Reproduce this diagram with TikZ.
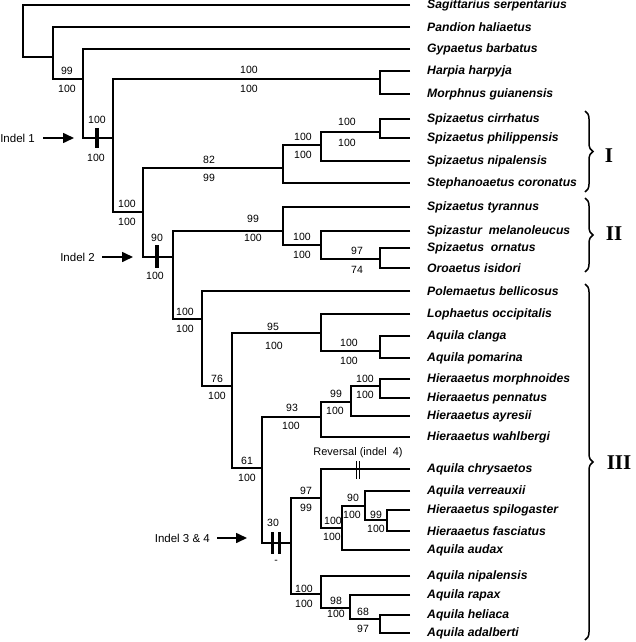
\documentclass[tikz,border=0pt]{standalone}
\usepackage{fontspec}
\setmainfont{Liberation Sans}
\newfontfamily\romfont{Liberation Serif}
\usetikzlibrary{arrows.meta,decorations.pathreplacing}
\begin{document}
\begin{tikzpicture}[x=1pt,y=-1pt,
  br/.style={line width=1.8pt},
  leaf/.style={anchor=west, inner xsep=17pt, inner ysep=0pt, font=\fontsize{12.2}{14}\selectfont\bfseries\itshape},
  bs/.style={inner sep=0pt, font=\fontsize{10.5}{12}\selectfont},
  indel/.style={inner sep=0pt, font=\fontsize{11.5}{13}\selectfont},
  arr/.style={line width=1.6pt, -{Triangle[length=11pt,width=10pt]}},
  ibar/.style={line width=3.8pt},
  ibarb/.style={line width=3pt},
  rbar/.style={line width=0.9pt},
  clade/.style={line width=1.5pt, decorate, decoration={brace, amplitude=8pt}},
  rom/.style={inner sep=0pt, font=\fontsize{21}{24}\selectfont\romfont\bfseries}]
\useasboundingbox (0,0) rectangle (635,642);

% leaves
\node[leaf] (sag) at (410,5) {Sagittarius serpentarius};
\node[leaf] (pan) at (410,27) {Pandion haliaetus};
\node[leaf] (gyp) at (410,49) {Gypaetus barbatus};
\node[leaf] (har) at (410,71) {Harpia harpyja};
\node[leaf] (mor) at (410,94) {Morphnus guianensis};
\node[leaf] (cir) at (410,119) {Spizaetus cirrhatus};
\node[leaf] (phi) at (410,138) {Spizaetus philippensis};
\node[leaf] (nipS) at (410,161) {Spizaetus nipalensis};
\node[leaf] (ste) at (410,183) {Stephanoaetus coronatus};
\node[leaf] (tyr) at (410,207) {Spizaetus tyrannus};
\node[leaf] (mel) at (410,231) {Spizastur~~melanoleucus};
\node[leaf] (orn) at (410,248) {Spizaetus~~ornatus};
\node[leaf] (isi) at (410,268) {Oroaetus isidori};
\node[leaf] (pol) at (410,291) {Polemaetus bellicosus};
\node[leaf] (lop) at (410,314) {Lophaetus occipitalis};
\node[leaf] (cla) at (410,336) {Aquila clanga};
\node[leaf] (pom) at (410,358) {Aquila pomarina};
\node[leaf] (mph) at (410,379) {Hieraaetus morphnoides};
\node[leaf] (pen) at (410,398) {Hieraaetus pennatus};
\node[leaf] (ayr) at (410,416) {Hieraaetus ayresii};
\node[leaf] (wah) at (410,437) {Hieraaetus wahlbergi};
\node[leaf] (chr) at (410,469) {Aquila chrysaetos};
\node[leaf] (ver) at (410,491) {Aquila verreauxii};
\node[leaf] (spi) at (410,510) {Hieraaetus spilogaster};
\node[leaf] (fas) at (410,531) {Hieraaetus fasciatus};
\node[leaf] (aud) at (410,550) {Aquila audax};
\node[leaf] (nipA) at (410,576) {Aquila nipalensis};
\node[leaf] (rap) at (410,595) {Aquila rapax};
\node[leaf] (hel) at (410,615) {Aquila heliaca};
\node[leaf] (ada) at (410,633) {Aquila adalberti};

% internal nodes
\coordinate (root) at (23,31);
\coordinate (A) at (53,57);
\coordinate (B) at (83,79);
\coordinate (C) at (113,138);
\coordinate (D) at (380,79);
\coordinate (E) at (143,212);
\coordinate (F) at (283,168);
\coordinate (G) at (321,145);
\coordinate (H) at (380,132);
\coordinate (K) at (173,257);
\coordinate (J) at (283,231);
\coordinate (J2) at (321,245);
\coordinate (J3) at (380,259);
\coordinate (L) at (202,319);
\coordinate (M) at (232,386);
\coordinate (N) at (321,333);
\coordinate (O) at (380,351);
\coordinate (P) at (262,468);
\coordinate (Q) at (321,417);
\coordinate (S) at (351,402);
\coordinate (T) at (380,386);
\coordinate (R) at (291,543);
\coordinate (U) at (321,498);
\coordinate (V) at (342,528);
\coordinate (W) at (365,506);
\coordinate (X) at (387,520);
\coordinate (Y) at (321,594);
\coordinate (Z) at (350,608);
\coordinate (AA) at (380,619);

% branches
\draw[br] (sag.west) -| (root) |- (A);
\draw[br] (pan.west) -| (A) |- (B);
\draw[br] (gyp.west) -| (B) |- (C);
\draw[br] (D) -| (C) |- (E);
\draw[br] (har.west) -| (D) |- (mor.west);
\draw[br] (F) -| (E) |- (K);
\draw[br] (G) -| (F) |- (ste.west);
\draw[br] (H) -| (G) |- (nipS.west);
\draw[br] (cir.west) -| (H) |- (phi.west);
\draw[br] (J) -| (K) |- (L);
\draw[br] (tyr.west) -| (J) |- (J2);
\draw[br] (mel.west) -| (J2) |- (J3);
\draw[br] (orn.west) -| (J3) |- (isi.west);
\draw[br] (pol.west) -| (L) |- (M);
\draw[br] (N) -| (M) |- (P);
\draw[br] (lop.west) -| (N) |- (O);
\draw[br] (cla.west) -| (O) |- (pom.west);
\draw[br] (Q) -| (P) |- (R);
\draw[br] (S) -| (Q) |- (wah.west);
\draw[br] (T) -| (S) |- (ayr.west);
\draw[br] (mph.west) -| (T) |- (pen.west);
\draw[br] (U) -| (R) |- (Y);
\draw[br] (chr.west) -| (U) |- (V);
\draw[br] (W) -| (V) |- (aud.west);
\draw[br] (ver.west) -| (W) |- (X);
\draw[br] (spi.west) -| (X) |- (fas.west);
\draw[br] (nipA.west) -| (Y) |- (Z);
\draw[br] (rap.west) -| (Z) |- (AA);
\draw[br] (hel.west) -| (AA) |- (ada.west);

% support values
\node[bs] (sB1) at (67,71) {99};   \node[bs] (sB2) at (67,89) {100};
\node[bs] (sC1) at (97,120) {100}; \node[bs] (sC2) at (96,158) {100};
\node[bs] (sD1) at (249,70) {100}; \node[bs] (sD2) at (249,89) {100};
\node[bs] (sE1) at (127,204) {100}; \node[bs] (sE2) at (127,222) {100};
\node[bs] (sF1) at (209,160) {82}; \node[bs] (sF2) at (209,178) {99};
\node[bs] (sG1) at (303,137) {100}; \node[bs] (sG2) at (303,155) {100};
\node[bs] (sH1) at (347,122) {100}; \node[bs] (sH2) at (347,143) {100};
\node[bs] (sK1) at (157,238) {90}; \node[bs] (sK2) at (155,276) {100};
\node[bs] (sJ1) at (253,219) {99}; \node[bs] (sJ2) at (253,238) {100};
\node[bs] (sJ21) at (302,237) {100}; \node[bs] (sJ22) at (302,255) {100};
\node[bs] (sJ31) at (357,251) {97}; \node[bs] (sJ32) at (357,270) {74};
\node[bs] (sL1) at (185,312) {100}; \node[bs] (sL2) at (185,329) {100};
\node[bs] (sM1) at (217,379) {76}; \node[bs] (sM2) at (217,396) {100};
\node[bs] (sN1) at (273,327) {95}; \node[bs] (sN2) at (274,346) {100};
\node[bs] (sO1) at (349,343) {100}; \node[bs] (sO2) at (349,361) {100};
\node[bs] (sP1) at (247,461) {61}; \node[bs] (sP2) at (247,478) {100};
\node[bs] (sQ1) at (292,408) {93}; \node[bs] (sQ2) at (291,426) {100};
\node[bs] (sS1) at (336,394) {99}; \node[bs] (sS2) at (335,411) {100};
\node[bs] (sT1) at (365,379) {100}; \node[bs] (sT2) at (365,395) {100};
\node[bs] (sR1) at (273,523) {30}; \node[bs] (sR2) at (276,562) {-};
\node[bs] (sU1) at (306,491) {97}; \node[bs] (sU2) at (306,508) {99};
\node[bs] (sV1) at (333,521) {100}; \node[bs] (sV2) at (332,537) {100};
\node[bs] (sW1) at (353,498) {90}; \node[bs] (sW2) at (352,515) {100};
\node[bs] (sX1) at (376,515) {99}; \node[bs] (sX2) at (376,529) {100};
\node[bs] (sY1) at (304,589) {100}; \node[bs] (sY2) at (304,604) {100};
\node[bs] (sZ1) at (336,601) {98}; \node[bs] (sZ2) at (336,614) {100};
\node[bs] (sAA1) at (363,612) {68}; \node[bs] (sAA2) at (363,629) {97};

% indel marks
\draw[ibar] (97,128) -- (97,148);
\draw[ibar] (157,245) -- (157,268);
\draw[ibarb] (272,532) -- (272,554);
\draw[ibarb] (279,532) -- (279,554);
\draw[rbar] (356,461) -- (356,479);
\draw[rbar] (359,461) -- (359,479);
\node[bs, font=\fontsize{11}{13}\selectfont] (rev) at (358,453) {Reversal (indel~~4)};

% indel arrows
\node[indel, anchor=east] (i1) at (35,138) {Indel 1};
\coordinate (i1t) at (74,138);
\draw[arr] ([xshift=8pt]i1.east) -- (i1t);
\node[indel, anchor=east] (i2) at (95,257) {Indel 2};
\coordinate (i2t) at (133,257);
\draw[arr] ([xshift=7pt]i2.east) -- (i2t);
\node[indel, anchor=east] (i3) at (210,538) {Indel 3 \& 4};
\coordinate (i3t) at (247,538);
\draw[arr] ([xshift=7pt]i3.east) -- (i3t);

% clade braces
\draw[clade] (585,111) -- (585,192);
\draw[clade] (585,198) -- (585,272);
\draw[clade] (585,284) -- (585,640);
\node[rom] (cI) at (609,156) {I};
\node[rom] (cII) at (614,234) {II};
\node[rom] (cIII) at (619,463) {III};
\end{tikzpicture}
\end{document}
